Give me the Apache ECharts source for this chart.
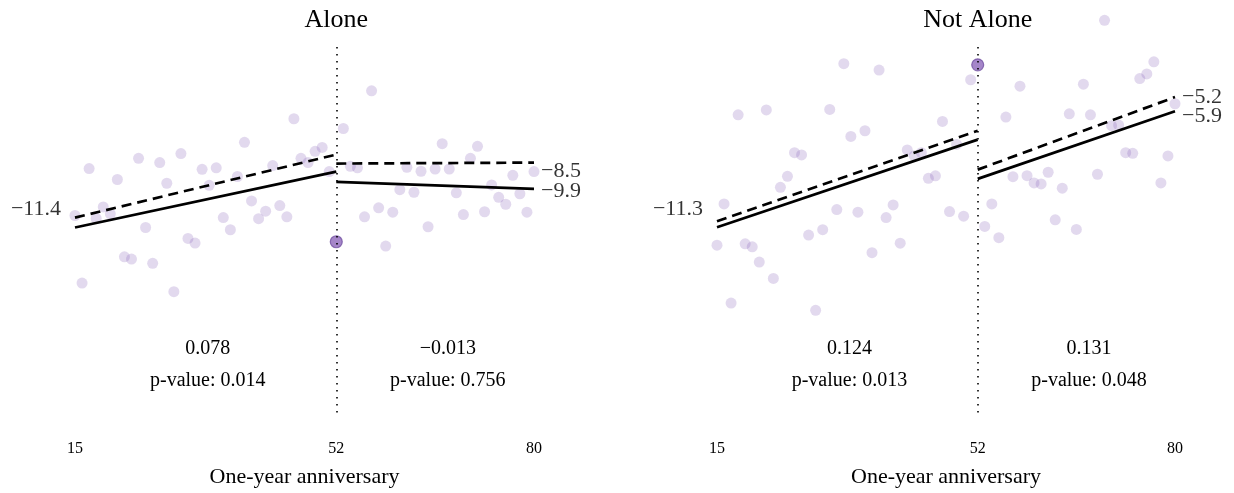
<!DOCTYPE html>
<html>
<head>
<meta charset="utf-8">
<script src="https://cdn.jsdelivr.net/npm/echarts@6/dist/echarts.min.js"></script>
<style>
  html, body { margin: 0; padding: 0; background: #fff; }
  #chart { width: 1234px; height: 493px; }
</style>
</head>
<body>
<div id="chart"></div>
<script>
// weeks on either side of the one-year anniversary (week 52)
const weeksPre = [15,16,17,18,19,20,21,22,23,24,25,26,27,28,29,30,31,32,33,34,35,36,37,38,39,40,41,42,43,44,45,46,47,48,49,50,51];
const weeksPost = [53,54,55,56,57,58,59,60,61,62,63,64,65,66,67,68,69,70,71,72,73,74,75,76,77,78,79,80];
const anniversaryWeek = 52;
const xTicks = [15, 52, 80];
const segPre = [15, 52];
const segPost = [52, 80];

// Alone
const alonePre = [-11.32,-14.92,-8.82,-11.48,-10.86,-11.23,-9.40,-13.52,-13.64,-8.27,-11.96,-13.87,-8.50,-9.60,-15.38,-8.02,-12.54,-12.79,-8.86,-9.71,-8.78,-11.43,-12.08,-9.24,-7.42,-10.54,-11.49,-11.09,-8.66,-10.79,-11.39,-6.16,-8.27,-8.50,-7.90,-7.69,-8.98];
const alonePost = [-6.68,-8.70,-8.78,-11.39,-4.67,-10.91,-12.95,-11.14,-9.94,-8.75,-10.08,-8.96,-11.92,-8.84,-7.49,-8.84,-10.11,-11.27,-8.27,-7.63,-11.12,-9.69,-10.35,-10.72,-9.18,-10.16,-11.14,-8.98];
const aloneAnniversary = -12.72;
const aloneSolidPre = [-11.96, -8.98];
const aloneSolidPost = [-9.53, -9.90];
const aloneDashedPre = [-11.43, -8.07];
const aloneDashedPost = [-8.55, -8.50];
const aloneEndLabels = [-11.4, -8.5, -9.9];
const aloneSlopes = [0.078, -0.013];
const alonePValues = [0.014, 0.756];

// Not Alone
const notAlonePre = [-12.55,-10.50,-15.42,-6.08,-12.48,-12.63,-13.39,-5.84,-14.20,-9.68,-9.13,-7.96,-8.07,-12.05,-15.78,-11.78,-5.81,-10.78,-3.54,-7.15,-10.91,-6.87,-12.92,-3.86,-11.18,-10.55,-12.45,-7.82,-8.11,-7.96,-9.23,-9.11,-6.41,-10.88,-7.55,-11.11,-4.34];
const notAlonePost = [-11.62,-10.50,-12.18,-6.19,-9.15,-4.66,-9.10,-9.46,-9.51,-8.93,-11.29,-9.72,-6.03,-11.77,-4.56,-6.08,-9.03,-1.39,-6.62,-6.59,-7.96,-7.99,-4.28,-4.05,-3.45,-9.46,-8.12,-5.53];
const notAloneAnniversary = -3.60;
const notAloneSolidPre = [-11.66, -7.31];
const notAloneSolidPost = [-9.26, -5.90];
const notAloneDashedPre = [-11.36, -6.87];
const notAloneDashedPost = [-8.80, -5.20];
const notAloneEndLabels = [-11.3, -5.2, -5.9];
const notAloneSlopes = [0.124, 0.131];
const notAlonePValues = [0.013, 0.048];

const FONT = '"Liberation Serif", "DejaVu Serif", serif';
const MINUS = '\u2212';
const fmt = (v, d) => (v < 0 ? MINUS : '') + Math.abs(v).toFixed(d);

const panels = [
  {
    title: 'Alone', pre: alonePre, post: alonePost, anniv: aloneAnniversary,
    solidPre: aloneSolidPre, solidPost: aloneSolidPost,
    dashedPre: aloneDashedPre, dashedPost: aloneDashedPost,
    endLabels: aloneEndLabels, slopes: aloneSlopes, pvals: alonePValues,
    left: 75, width: 459, yMin: -21.904, yMax: -0.362, dotTop: -2.33,
    labelOffsets: [[0, -8], [0, 9], [0, 2]]
  },
  {
    title: 'Not Alone', pre: notAlonePre, post: notAlonePost, anniv: notAloneAnniversary,
    solidPre: notAloneSolidPre, solidPost: notAloneSolidPost,
    dashedPre: notAloneDashedPre, dashedPost: notAloneDashedPost,
    endLabels: notAloneEndLabels, slopes: notAloneSlopes, pvals: notAlonePValues,
    left: 717, width: 458, yMin: -20.928, yMax: -0.878, dotTop: -2.71,
    labelOffsets: [[0, -12], [0, 0], [0, 5]]
  }
];

const chart = echarts.init(document.getElementById('chart'), null, { renderer: 'canvas' });

const grids = [], xAxes = [], yAxes = [], series = [];

panels.forEach((p, i) => {
  grids.push({ left: p.left, width: p.width, top: 10, height: 405 });
  xAxes.push({
    gridIndex: i, type: 'value', min: 15, max: 80,
    axisLine: { show: false }, axisTick: { show: false }, splitLine: { show: false },
    axisLabel: {
      customValues: xTicks, margin: 27, color: '#000',
      fontFamily: FONT, fontSize: 16
    },
    name: 'One-year anniversary', nameLocation: 'middle', nameGap: 52,
    nameTextStyle: { color: '#000', fontFamily: FONT, fontSize: 22 }
  });
  yAxes.push({ gridIndex: i, type: 'value', min: p.yMin, max: p.yMax, show: false });

  const pts = weeksPre.map((w, k) => [w, p.pre[k]])
    .concat(weeksPost.map((w, k) => [w, p.post[k]]));

  series.push({
    type: 'scatter', xAxisIndex: i, yAxisIndex: i, symbolSize: 11,
    itemStyle: { color: 'rgba(125, 85, 178, 0.28)' },
    data: pts, z: 1
  });
  series.push({
    type: 'scatter', xAxisIndex: i, yAxisIndex: i, symbolSize: 12,
    itemStyle: { color: 'rgba(130, 88, 180, 0.9)', borderColor: 'rgba(105,70,155,0.9)', borderWidth: 1.2 },
    data: [[anniversaryWeek, p.anniv]], z: 2
  });

  const lineOf = (xs, ys, dashed) => ({
    type: 'line', xAxisIndex: i, yAxisIndex: i, showSymbol: false, silent: true,
    lineStyle: { color: '#000', width: 2.7, type: dashed ? [10, 6] : 'solid' },
    data: [[xs[0], ys[0]], [xs[1], ys[1]]], z: 3
  });
  series.push(lineOf(segPre, p.solidPre, false));
  series.push(lineOf(segPost, p.solidPost, false));
  series.push(lineOf(segPre, p.dashedPre, true));
  const dashPost = lineOf(segPost, p.dashedPost, true);
  dashPost.markLine = {
    silent: true, symbol: 'none', animation: false,
    label: { show: false },
    lineStyle: { color: '#000', width: 1.6, type: [1.6, 5.4] },
    data: [[{ coord: [anniversaryWeek, p.dotTop] }, { coord: [anniversaryWeek, p.yMin] }]]
  };
  dashPost.z = 4;
  series.push(dashPost);

  // value labels at the line ends
  const ends = [
    [segPre[0], p.dashedPre[0], 'left'],
    [segPost[1], p.dashedPost[1], 'right'],
    [segPost[1], p.solidPost[1], 'right']
  ];
  series.push({
    type: 'scatter', xAxisIndex: i, yAxisIndex: i, symbolSize: 0, silent: true,
    data: ends.map((e, k) => ({
      value: [e[0], e[1]],
      name: fmt(p.endLabels[k], 1),
      label: {
        show: true, position: e[2], distance: e[2] === 'left' ? 14 : 7,
        offset: p.labelOffsets[k],
        formatter: (q) => q.name,
        color: '#000', fontFamily: FONT, fontSize: 22
      }
    })),
    z: 5
  });
});

chart.setOption({
  animation: false,
  backgroundColor: '#fff',
  grid: grids,
  xAxis: xAxes,
  yAxis: yAxes,
  series: series
});

// titles and slope annotations
const graphics = [];
panels.forEach((p, i) => {
  const cx = chart.convertToPixel({ xAxisIndex: i }, anniversaryWeek);
  graphics.push({
    type: 'text', x: cx, y: 20,
    style: { text: p.title, fill: '#000', font: '26px ' + FONT, textAlign: 'center', textVerticalAlign: 'middle' }
  });
  [33.8, 67.8].forEach((xv, k) => {
    const px = chart.convertToPixel({ xAxisIndex: i }, xv);
    graphics.push({
      type: 'text', x: px, y: 349,
      style: { text: fmt(p.slopes[k], 3), fill: '#000', font: '20px ' + FONT, textAlign: 'center', textVerticalAlign: 'middle' }
    });
    graphics.push({
      type: 'text', x: px, y: 381,
      style: { text: 'p-value: ' + p.pvals[k].toFixed(3), fill: '#000', font: '20px ' + FONT, textAlign: 'center', textVerticalAlign: 'middle' }
    });
  });
});
chart.setOption({ graphic: graphics });
</script>
</body>
</html>
